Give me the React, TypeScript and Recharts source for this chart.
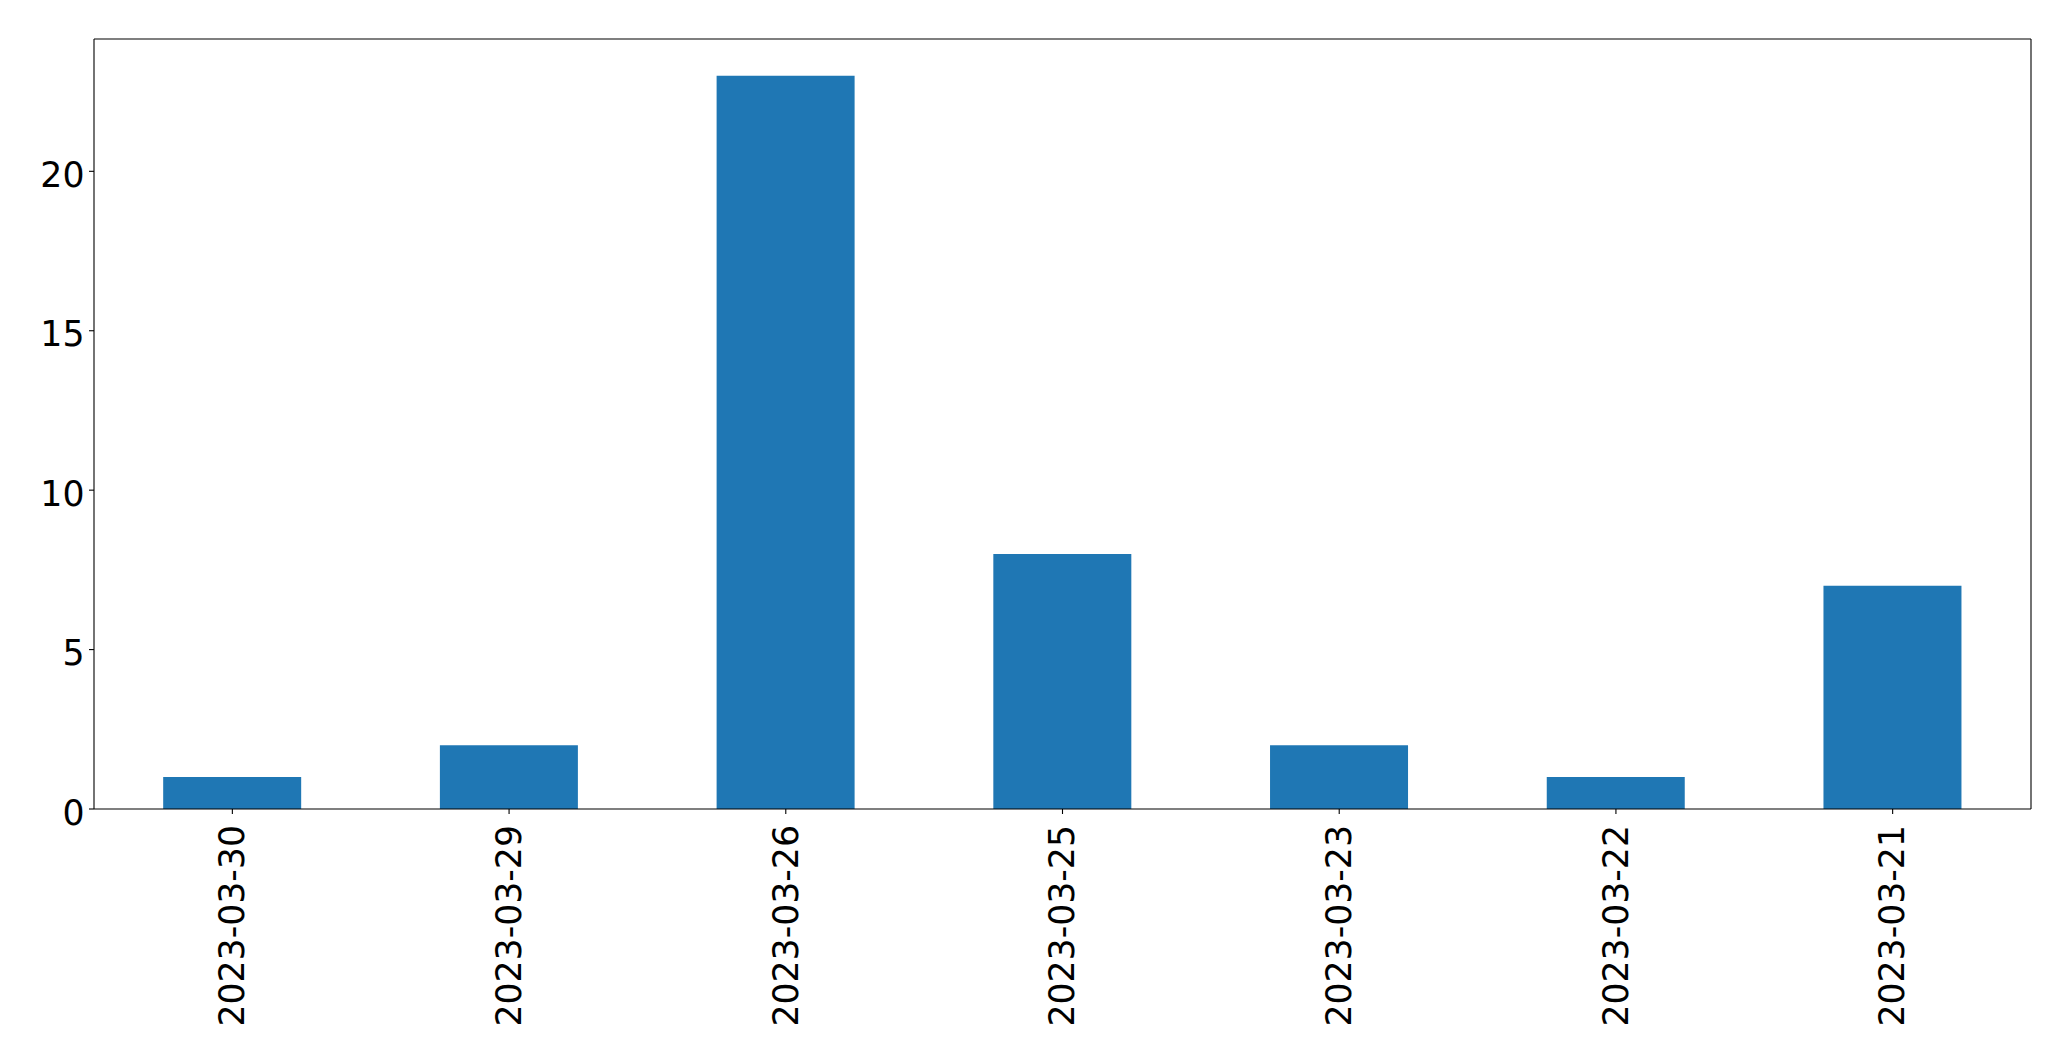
import React from "react";
import { BarChart, Bar, XAxis, YAxis } from "recharts";

const categories = [
  "2023-03-30",
  "2023-03-29",
  "2023-03-26",
  "2023-03-25",
  "2023-03-23",
  "2023-03-22",
  "2023-03-21",
];
const counts = [1, 2, 23, 8, 2, 1, 7];
const yTicks = [0, 5, 10, 15, 20];

const data = categories.map((c, i) => ({ date: c, count: counts[i] }));

const FONT = "'DejaVu Sans', sans-serif";
const FS = 34.7;

const YTick = (props: any) => {
  const { x, y, payload } = props;
  return (
    <text x={x} y={y} dy="0.45em" textAnchor="end" fontFamily={FONT} fontSize={FS} fill="#000">
      {payload.value}
    </text>
  );
};

const XTick = (props: any) => {
  const { x, y, payload } = props;
  return (
    <text
      x={x}
      y={y}
      dy="0.34em"
      textAnchor="end"
      transform={`rotate(-90 ${x} ${y})`}
      fontFamily={FONT}
      fontSize={FS}
      fill="#000"
    >
      {payload.value}
    </text>
  );
};

export default function App() {
  return (
    <div style={{ position: "absolute", left: 0, top: 0, width: 2071, height: 1061, background: "#fff" }}>
      <BarChart
        width={2071}
        height={1061}
        data={data}
        margin={{ top: 38, right: 39, left: 0, bottom: 0 }}
        barCategoryGap="25%"
      >
        <XAxis
          xAxisId="main"
          dataKey="date"
          type="category"
          height={252}
          tickSize={5}
          tickMargin={11}
          interval={0}
          axisLine={{ stroke: "#000", strokeWidth: 1.1 }}
          tickLine={{ stroke: "#000", strokeWidth: 1.1 }}
          tick={<XTick />}
        />
        <XAxis
          xAxisId="top"
          orientation="top"
          dataKey="date"
          type="category"
          height={1}
          tick={false}
          tickLine={false}
          axisLine={{ stroke: "#000", strokeWidth: 1.1 }}
        />
        <YAxis
          yAxisId="main"
          type="number"
          domain={[0, 24.15]}
          ticks={yTicks}
          width={94}
          tickSize={5}
          tickMargin={4.5}
          interval={0}
          axisLine={{ stroke: "#000", strokeWidth: 1.1 }}
          tickLine={{ stroke: "#000", strokeWidth: 1.1 }}
          tick={<YTick />}
        />
        <YAxis
          yAxisId="right"
          orientation="right"
          type="number"
          domain={[0, 24.15]}
          width={1}
          tick={false}
          tickLine={false}
          axisLine={{ stroke: "#000", strokeWidth: 1.1 }}
        />
        <Bar
          xAxisId="main"
          yAxisId="main"
          dataKey="count"
          fill="#1f77b4"
          isAnimationActive={false}
        />
      </BarChart>
    </div>
  );
}
